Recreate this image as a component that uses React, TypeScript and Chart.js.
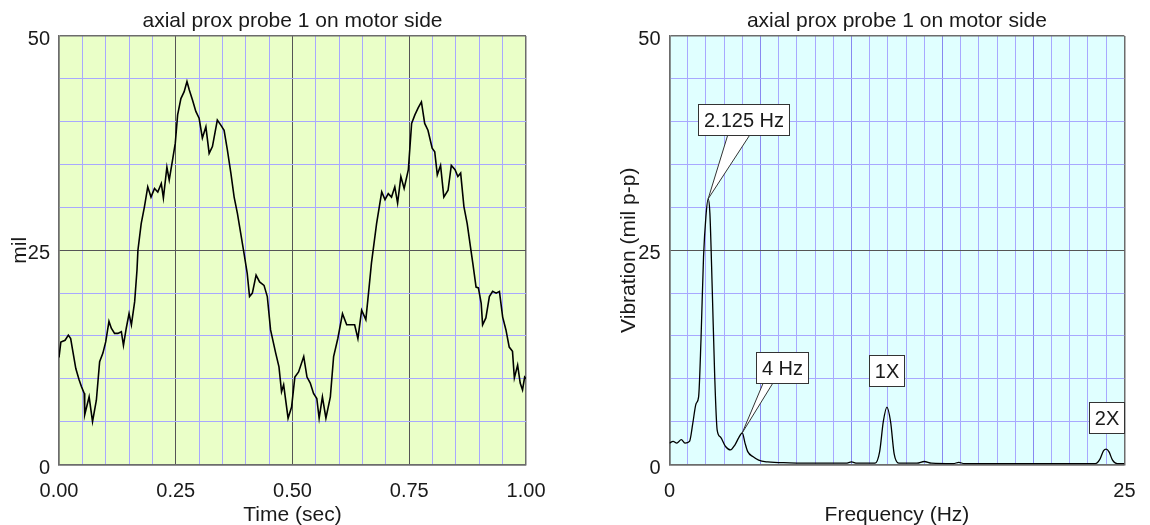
import React, { useEffect, useRef } from 'react';
import { Chart, registerables } from 'chart.js';

Chart.register(...registerables);

const FONT = "'Liberation Sans', Arial, Helvetica, sans-serif";
const chartTitle = 'axial prox probe 1 on motor side';

// ---- left panel: time waveform ----
const timeSec = [
  0, 0.004, 0.013, 0.02, 0.025, 0.029, 0.036, 0.043, 0.048, 0.054, 0.055, 0.0645, 0.0718, 0.08,
  0.087, 0.094, 0.1, 0.107, 0.112, 0.119, 0.126, 0.1335, 0.138, 0.144, 0.15, 0.155, 0.162, 0.167,
  0.169, 0.176, 0.183, 0.19, 0.197, 0.2045, 0.2115, 0.219, 0.2235, 0.231, 0.236, 0.243, 0.249,
  0.254, 0.261, 0.268, 0.274, 0.279, 0.286, 0.293, 0.3, 0.307, 0.3145, 0.3215, 0.3285, 0.339,
  0.3465, 0.3535, 0.3605, 0.368, 0.375, 0.382, 0.389, 0.396, 0.403, 0.408, 0.414, 0.422, 0.4295,
  0.439, 0.446, 0.453, 0.464, 0.471, 0.4765, 0.481, 0.4905, 0.498, 0.505, 0.513, 0.524, 0.531,
  0.538, 0.545, 0.552, 0.557, 0.564, 0.5715, 0.581, 0.588, 0.597, 0.607, 0.616, 0.623, 0.633,
  0.64, 0.648, 0.657, 0.664, 0.669, 0.68, 0.691, 0.698, 0.705, 0.712, 0.719, 0.725, 0.732, 0.739,
  0.748, 0.755, 0.762, 0.769, 0.776, 0.783, 0.79, 0.799, 0.8045, 0.81, 0.817, 0.824, 0.833, 0.84,
  0.848, 0.854, 0.86, 0.867, 0.874, 0.881, 0.886, 0.893, 0.898, 0.904, 0.907, 0.914, 0.9215,
  0.9285, 0.936, 0.943, 0.95, 0.957, 0.964, 0.971, 0.975, 0.982, 0.9875, 0.9925, 0.997, 1.0,
];
const amplitudeMil = [
  12.5, 14.3, 14.5, 15.1, 14.7, 13.4, 11.2, 9.9, 9.1, 8.3, 5.8, 7.9, 5.0, 7.5,
  12.0, 13.0, 14.3, 16.7, 15.9, 15.3, 15.3, 15.5, 13.9, 15.9, 17.6, 16.3, 19.0, 22.7,
  25.0, 28.1, 30.1, 32.4, 31.2, 32.2, 31.8, 32.8, 31.1, 34.7, 33.2, 35.5, 37.5,
  40.8, 42.7, 43.5, 44.7, 43.7, 42.5, 41.2, 40.4, 38.1, 39.4, 36.3, 37.1, 40.2,
  39.6, 39.0, 36.7, 34.0, 31.2, 29.3, 27.0, 24.7, 22.3, 19.6, 20.0, 22.1, 21.3,
  20.9, 19.6, 15.7, 13.0, 11.4, 8.5, 9.3, 5.4, 6.7, 10.2, 10.8, 12.6, 10.2,
  9.5, 8.3, 7.7, 5.4, 7.9, 5.4, 7.9, 12.6, 14.7, 17.6, 16.3, 16.3, 16.3,
  14.7, 18.0, 16.9, 20.7, 23.5, 28.1, 31.8, 30.9, 31.6, 31.2, 32.4, 30.5, 33.6, 32.2,
  34.4, 39.8, 40.8, 41.6, 42.3, 39.8, 39.0, 36.9, 36.5, 33.8, 34.9, 31.2, 32.0, 34.9,
  34.4, 33.6, 34.0, 30.1, 28.1, 25.4, 23.5, 20.7, 20.6, 18.8, 16.3, 17.1, 19.6,
  20.2, 20.0, 20.2, 17.2, 15.7, 13.7, 13.2, 10.1, 11.6, 9.5, 8.7, 10.2, 10.0,
];
const timeTickLabels = [0, 0.25, 0.5, 0.75, 1];
const timeGridStep = 0.05;
const milTickLabels = [0, 25, 50];
const milGridStep = 5;

// ---- right panel: spectrum ----
const freqHz = [
  0, 0.2, 0.4, 0.65, 0.85, 1.1, 1.28, 1.46, 1.6, 1.73, 1.87, 2.0, 2.125, 2.22, 2.35, 2.48, 2.62,
  2.8, 3.08, 3.35, 3.6, 3.8, 4.0, 4.15, 4.3, 4.6, 4.9, 5.4, 6.6, 8, 9.7, 10.0, 10.3, 11.3, 11.55,
  11.75, 11.95, 12.15, 12.35, 12.6, 13.6, 14.0, 14.4, 15.6, 15.9, 16.2, 18, 20, 22, 23.4, 23.65,
  23.85, 24.0, 24.15, 24.35, 24.6, 25,
];
const vibrationMil = [
  2.5, 2.7, 2.5, 2.9, 2.5, 2.7, 4.8, 7.1, 7.9, 14.5, 24.2, 28.9, 31.0, 29.3, 20.4, 10.6, 4.0,
  3.2, 2.1, 1.7, 2.3, 3.1, 3.7, 2.5, 1.5, 0.9, 0.5, 0.3, 0.2, 0.15, 0.15, 0.3, 0.15, 0.15, 1.5,
  5.0, 6.7, 5.0, 1.2, 0.15, 0.15, 0.35, 0.15, 0.1, 0.25, 0.1, 0.1, 0.1, 0.1, 0.1, 0.6,
  1.6, 1.8, 1.5, 0.5, 0.1, 0.1,
];
const freqTickLabels = [0, 25];
const freqGridStep = 1;

const calloutText = ['2.125 Hz', '4 Hz', '1X', '2X'];
const calloutPeakHz = [2.125, 4.0, NaN, NaN];
const calloutPeakMil = [31.0, 3.7, NaN, NaN];
const calloutBoxHz = [4.04, 6.16, 11.9, 24.0];
const calloutBoxMil = [40.3, 11.3, 11.0, 5.5];

// ---- styling ----
const BORDER = '#6c6c6c';
const MAJOR = '#555555';
const MINOR = '#a8a8ff';
const BLUE5 = '#8888f0';
const TEXT = '#1a1a1a';

const near = (a: number, b: number) => Math.abs(a - b) < 1e-6;
const isMult = (v: number, s: number) => near(v / s, Math.round(v / s));

function gridTicks(min: number, max: number, step: number) {
  const n = Math.round((max - min) / step);
  const out: { value: number }[] = [];
  for (let i = 0; i <= n; i++) out.push({ value: +(min + i * step).toFixed(6) });
  return out;
}

function makeScale(axis: 'x' | 'y', o: any) {
  const edge = (v: number) => near(v, o.min) || near(v, o.max);
  return {
    type: 'linear',
    min: o.min,
    max: o.max,
    afterBuildTicks: (s: any) => {
      s.ticks = gridTicks(o.min, o.max, o.step);
    },
    afterFit: (s: any) => {
      if (axis === 'x') s.height = o.fit;
      else s.width = o.fit;
    },
    ticks: {
      autoSkip: false,
      maxRotation: 0,
      minRotation: 0,
      padding: o.tickPadding,
      labelOffset: o.labelOffset || 0,
      color: TEXT,
      font: { family: FONT, size: 20, lineHeight: 1.2 },
      callback: (v: number) => (o.labels.some((l: number) => near(l, v)) ? o.fmt(v) : ''),
    },
    grid: {
      drawTicks: false,
      color: (c: any) => {
        const v = c.tick ? c.tick.value : o.min;
        return edge(v) ? BORDER : o.gridColor(v);
      },
      lineWidth: (c: any) => {
        const v = c.tick ? c.tick.value : o.min;
        return edge(v) ? 1.5 : 1;
      },
    },
    border: { display: true, color: BORDER, width: 1.5 },
    title: {
      display: true,
      text: o.title,
      color: TEXT,
      font: { family: FONT, size: 21, lineHeight: 1 },
      padding: o.titlePadding,
    },
  };
}

const plotBg = (color: string) => ({
  id: 'plotBg',
  beforeDraw(chart: any) {
    const { ctx, chartArea: a } = chart;
    ctx.save();
    ctx.fillStyle = color;
    ctx.fillRect(a.left, a.top, a.right - a.left, a.bottom - a.top);
    ctx.restore();
  },
});

const calloutPlugin = {
  id: 'callouts',
  afterDatasetsDraw(chart: any) {
    const { ctx } = chart;
    const xs = chart.scales.x;
    const ys = chart.scales.y;
    const tailFrac = [
      [0.32, 0.56],
      [0.125, 0.31],
      [0, 0],
      [0, 0],
    ];
    ctx.save();
    ctx.font = `20px ${FONT}`;
    ctx.textAlign = 'center';
    ctx.textBaseline = 'middle';
    for (let i = 0; i < calloutText.length; i++) {
      const cx = xs.getPixelForValue(calloutBoxHz[i]);
      const cy = ys.getPixelForValue(calloutBoxMil[i]);
      const tw = ctx.measureText(calloutText[i]).width;
      const w = Math.round(tw + 11);
      const h = 31;
      const left = Math.round(cx - w / 2) + 0.5;
      const top = Math.round(cy - h / 2) + 0.5;
      ctx.lineWidth = 1;
      ctx.strokeStyle = '#333';
      ctx.fillStyle = '#ffffff';
      if (!isNaN(calloutPeakHz[i])) {
        const tx = xs.getPixelForValue(calloutPeakHz[i]);
        const ty = ys.getPixelForValue(calloutPeakMil[i]);
        const b1 = left + w * tailFrac[i][0];
        const b2 = left + w * tailFrac[i][1];
        ctx.beginPath();
        ctx.moveTo(b1, top + h);
        ctx.lineTo(tx, ty);
        ctx.lineTo(b2, top + h);
        ctx.closePath();
        ctx.fill();
        ctx.beginPath();
        ctx.moveTo(b1, top + h);
        ctx.lineTo(tx, ty);
        ctx.lineTo(b2, top + h);
        ctx.stroke();
      }
      ctx.fillRect(left, top, w, h);
      ctx.strokeRect(left, top, w, h);
      ctx.fillStyle = TEXT;
      ctx.fillText(calloutText[i], left + w / 2, top + h / 2 + 1);
    }
    ctx.restore();
  },
};

function baseOptions(padRight: number) {
  return {
    responsive: false,
    animation: false,
    devicePixelRatio: 1,
    events: [],
    layout: { padding: { left: 0, right: padRight, top: 0, bottom: 0 } },
    plugins: {
      legend: { display: false },
      tooltip: { enabled: false },
      title: {
        display: true,
        text: chartTitle,
        fullSize: false,
        color: TEXT,
        font: { family: FONT, size: 21, weight: 'normal', lineHeight: 1.2 },
        padding: { top: 8.5, bottom: 2.3 },
      },
    },
  };
}

function leftConfig(): any {
  return {
    type: 'line',
    data: {
      datasets: [
        {
          data: timeSec.map((t, i) => ({ x: t, y: amplitudeMil[i] })),
          borderColor: '#000',
          borderWidth: 1.6,
          pointRadius: 0,
          tension: 0,
          fill: false,
        },
      ],
    },
    options: {
      ...baseOptions(31.5),
      scales: {
        x: makeScale('x', {
          min: 0,
          max: 1,
          step: timeGridStep,
          labels: timeTickLabels,
          fmt: (v: number) => v.toFixed(2),
          title: 'Time (sec)',
          gridColor: (v: number) => (isMult(v, 0.25) ? MAJOR : MINOR),
          fit: 60.5,
          tickPadding: 14.5,
          titlePadding: { top: 0, bottom: -0.5 },
        }),
        y: makeScale('y', {
          min: 0,
          max: 50,
          step: milGridStep,
          labels: milTickLabels,
          fmt: (v: number) => String(v),
          title: 'mil',
          gridColor: (v: number) => (isMult(v, 25) ? MAJOR : MINOR),
          fit: 59,
          tickPadding: 9,
          labelOffset: 3.5,
          titlePadding: { top: 9.5, bottom: 0 },
        }),
      },
    },
    plugins: [plotBg('rgb(234,255,200)')],
  };
}

function rightConfig(): any {
  return {
    type: 'line',
    data: {
      datasets: [
        {
          data: freqHz.map((f, i) => ({ x: f, y: vibrationMil[i] })),
          borderColor: '#000',
          borderWidth: 1.3,
          pointRadius: 0,
          cubicInterpolationMode: 'monotone',
          fill: false,
        },
      ],
    },
    options: {
      ...baseOptions(15.5),
      scales: {
        x: makeScale('x', {
          min: 0,
          max: 25,
          step: freqGridStep,
          labels: freqTickLabels,
          fmt: (v: number) => String(v),
          title: 'Frequency (Hz)',
          gridColor: (v: number) => (isMult(v, 5) ? BLUE5 : MINOR),
          fit: 60.5,
          tickPadding: 14.5,
          titlePadding: { top: 0, bottom: -0.5 },
        }),
        y: makeScale('y', {
          min: 0,
          max: 50,
          step: milGridStep,
          labels: milTickLabels,
          fmt: (v: number) => String(v),
          title: 'Vibration (mil p-p)',
          gridColor: (v: number) => (isMult(v, 25) ? MAJOR : MINOR),
          fit: 94.5,
          tickPadding: 9,
          labelOffset: 3.5,
          titlePadding: { top: 43.5, bottom: 0 },
        }),
      },
    },
    plugins: [plotBg('rgb(224,255,255)'), calloutPlugin],
  };
}

function ChartCanvas({ make, width, height, left }: any) {
  const ref = useRef<HTMLCanvasElement | null>(null);
  useEffect(() => {
    if (!ref.current) return;
    const chart = new Chart(ref.current, make());
    return () => chart.destroy();
  }, []);
  return (
    <canvas
      ref={ref}
      width={width}
      height={height}
      style={{ position: 'absolute', left, top: 0, width, height, display: 'block' }}
    />
  );
}

export default function App() {
  return (
    <div style={{ position: 'absolute', left: 0, top: 0, width: 1150, height: 525, background: '#fff' }}>
      <ChartCanvas make={leftConfig} width={560} height={525} left={0} />
      <ChartCanvas make={rightConfig} width={575} height={525} left={575} />
    </div>
  );
}
